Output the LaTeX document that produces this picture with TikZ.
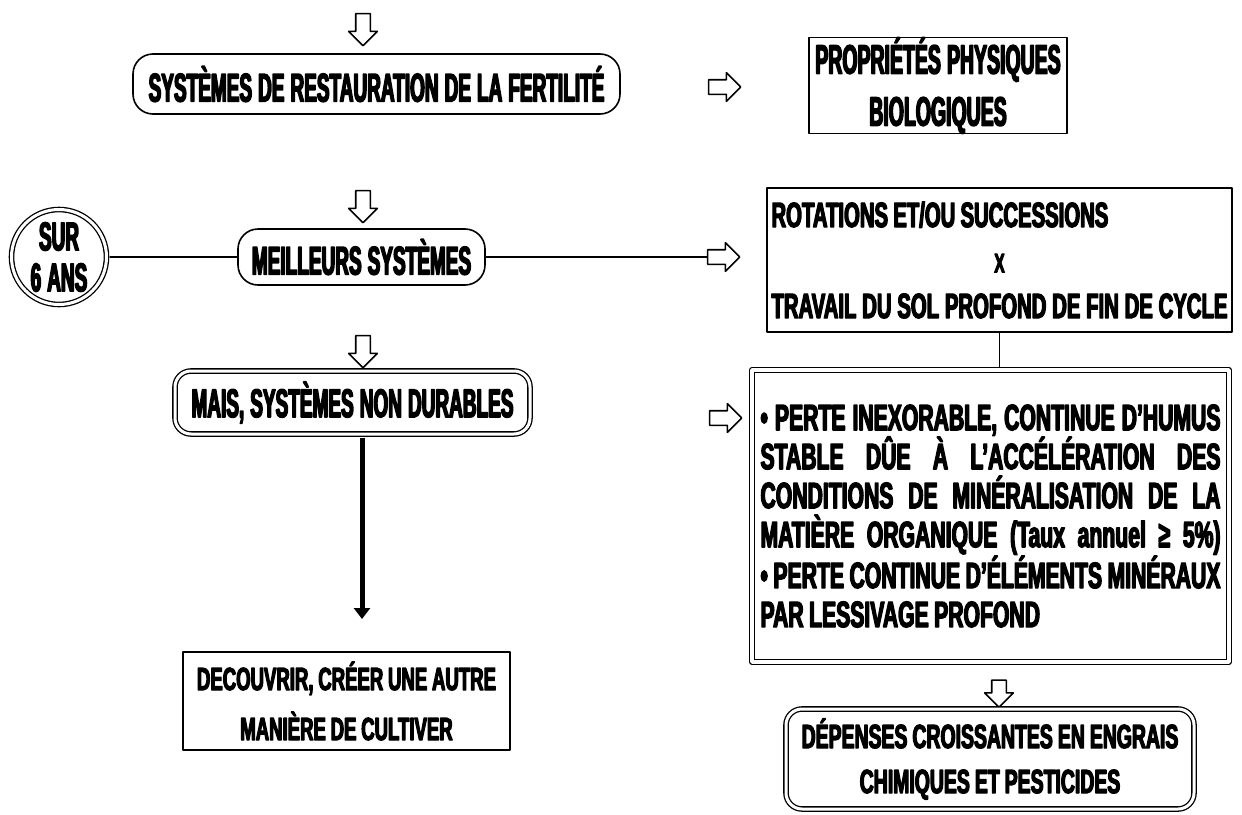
\documentclass[tikz,border=0pt]{standalone}
\usepackage{fontspec}
\setmainfont{Liberation Sans}
\newfontfamily\headfont{Liberation Sans}[FakeStretch=0.475,FakeBold=3.5]
\newfontfamily\bodyfont{Liberation Sans}[FakeStretch=0.58,FakeBold=3.5]
\newcommand\tightspace{\spaceskip=0.15em plus 0.4em minus 0.05em\relax\xspaceskip=\spaceskip}
\usetikzlibrary{shapes.arrows,arrows.meta}

\begin{document}
\begin{tikzpicture}[
			x=1pt, y=-1pt,
			line cap=round,
			line join=round,
			every node/.style={inner sep=0pt, align=center, execute at begin node=\tightspace},
			headtext/.style 2 args={font=\headfont\bfseries\fontsize{#1}{#2}\selectfont},
			bodytext/.style 2 args={font=\bodyfont\bfseries\fontsize{#1}{#2}\selectfont},
			roundbox/.style={draw, line width=1.6pt, rounded corners=20pt},
			dblround/.style={draw, line width=1.3pt, double, double distance=3pt, rounded corners=16pt},
			plainbox/.style={draw, line width=1.5pt},
			dblbox/.style={draw, line width=1.2pt, double, double distance=3.5pt},
			ringnode/.style={circle, draw, line width=1.3pt, double, double distance=3pt},
			hollow/.style={single arrow, draw, line width=1.6pt, inner sep=6.5pt, minimum height=32pt,
				single arrow head extend=7pt, single arrow tip angle=90},
			link/.style={line width=1.5pt}
			]
			\useasboundingbox (0,0) rectangle (1242,814);
			
			% Top row
			\node[hollow, shape border rotate=270] (dn0) at (363,26) {};
			\node[roundbox, headtext={40}{44}, minimum width=487pt, minimum height=60pt] (restore) at (376.5,84) {SYSTÈMES DE RESTAURATION DE LA FERTILITÉ};
			\node[hollow] (rt1) at (721,87) {};
			\node[plainbox, headtext={41}{52}, minimum width=258pt, minimum height=89pt] (props) at (938,85.5) {PROPRIÉTÉS PHYSIQUES\\BIOLOGIQUES};
			
			% Middle row
			\node[hollow, shape border rotate=270] (dn1) at (363,203) {};
			\node[ringnode, headtext={40}{41}, minimum size=95pt] (ring) at (59,257) {SUR\\6 ANS};
			\node[roundbox, headtext={40}{44}, minimum width=247pt, minimum height=56pt] (best) at (361.5,257) {MEILLEURS SYSTÈMES};
			\node[hollow] (rt2) at (720,257) {};
			\node[plainbox, bodytext={35}{45.5}, text width=456pt, align=left, minimum width=465pt, minimum height=144pt] (rotsucc) at (999.5,260)
				{ROTATIONS ET/OU SUCCESSIONS\\
				\makebox[\hsize]{\fontsize{27}{30}\selectfont X}\\
				\makebox[\hsize][s]{TRAVAIL DU SOL PROFOND DE FIN DE CYCLE}};
			
			% Lower rows
			\node[hollow, shape border rotate=270] (dn2) at (363,348) {};
			\node[dblround, headtext={40}{44}, minimum width=355pt, minimum height=63pt] (weak) at (352.5,402.5) {MAIS, SYSTÈMES NON DURABLES};
			\node[hollow] (rt3) at (722,418) {};
			\node[dblbox, bodytext={36.5}{39}, text width=460pt, align=left, minimum width=477pt, minimum height=292pt] (losses) at (990.5,516)
				{\makebox[\hsize][s]{• PERTE INEXORABLE, CONTINUE D’HUMUS}\\
				\makebox[\hsize][s]{STABLE DÛE À L’ACCÉLÉRATION DES}\\
				\makebox[\hsize][s]{CONDITIONS DE MINÉRALISATION DE LA}\\
				\makebox[\hsize][s]{MATIÈRE ORGANIQUE (Taux annuel ≥ 5\%)}\\
				\makebox[\hsize][s]{• PERTE CONTINUE D’ÉLÉMENTS MINÉRAUX}\\
				PAR LESSIVAGE PROFOND};
			\coordinate (drop) at (362,619);
			\node[plainbox, bodytext={32}{50}, minimum width=327pt, minimum height=98pt] (discover) at (346.5,701) {DECOUVRIR, CRÉER UNE AUTRE\\MANIÈRE DE CULTIVER};
			\node[hollow, shape border rotate=270, minimum height=27pt] (dn3) at (999,690) {};
			\node[dblround, bodytext={33.5}{45}, minimum width=408pt, minimum height=100pt] (costs) at (990,759) {DÉPENSES CROISSANTES EN ENGRAIS\\CHIMIQUES ET PESTICIDES};
			
			% Connectors
			\draw[link, shorten <=3pt] (ring) -- (best);
			\draw[link] (best) -- (rt2);
			\draw[link, shorten >=3pt] (rotsucc.south) -- (rotsucc.south |- losses.north);
			\draw[line width=5pt, line cap=butt, shorten <=3pt, -{Triangle[width=16pt,length=11pt]}] (weak.south -| drop) -- (drop);
		\end{tikzpicture}
\end{document}
